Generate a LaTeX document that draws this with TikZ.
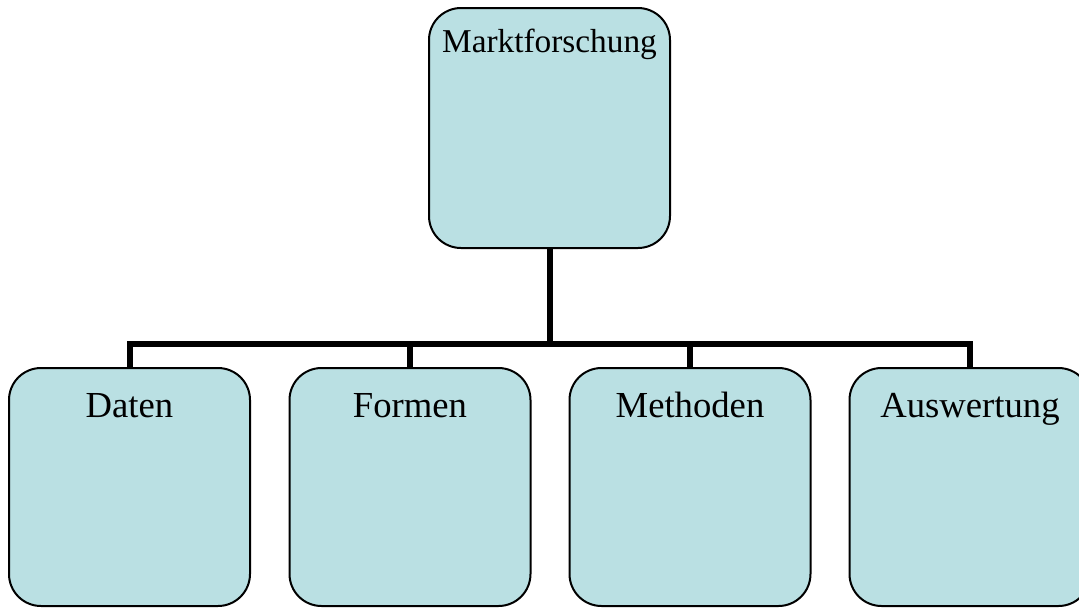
\documentclass[tikz,border=0pt]{standalone}
\usepackage{fontspec}
\setmainfont{Liberation Serif}
\usetikzlibrary{calc}
\definecolor{boxfill}{RGB}{186,224,227}
\tikzset{
  box/.style={draw=black, line width=1.5pt, fill=boxfill, rounded corners=24pt,
    minimum width=241*0.75pt, minimum height=#1*0.75pt, inner sep=0pt, outer sep=0pt},
  conn/.style={draw=black, line width=4.5pt},
  toplabel/.style={anchor=base, font=\fontsize{25}{30}\selectfont, inner sep=0pt},
  sublabel/.style={anchor=base, font=\fontsize{27.5}{33}\selectfont, inner sep=0pt}
}
\begin{document}
\begin{tikzpicture}[x=0.75pt, y=-0.75pt]
  \useasboundingbox (0,0) rectangle (1079,608);
  \clip (0,0) rectangle (1079,608);
  % root box
  \node[box=240] (m) at (549.5,128) {};
  \node[toplabel] (mt) at ($(m.north)+(0,44)$) {Marktforschung};
  % child boxes
  \node[box=238] (d1) at (129.5,487) {};
  \node[box=238] (d2) at (410,487) {};
  \node[box=238] (d3) at (690,487) {};
  \node[box=238] (d4) at (970,487) {};
  \node[sublabel] (t1) at ($(d1.north)+(0,49)$) {Daten};
  \node[sublabel] (t2) at ($(d2.north)+(0,49)$) {Formen};
  \node[sublabel] (t3) at ($(d3.north)+(0,49)$) {Methoden};
  \node[sublabel] (t4) at ($(d4.north)+(0,49)$) {Auswertung};
  % connectors
  \coordinate (bus) at (549.5,344);
  \draw[conn] (m.south) -- (bus);
  \draw[conn] (d1.north) |- (bus) -| (d4.north);
  \draw[conn] (d2.north) -- (d2.north |- bus);
  \draw[conn] (d3.north) -- (d3.north |- bus);
\end{tikzpicture}
\end{document}
